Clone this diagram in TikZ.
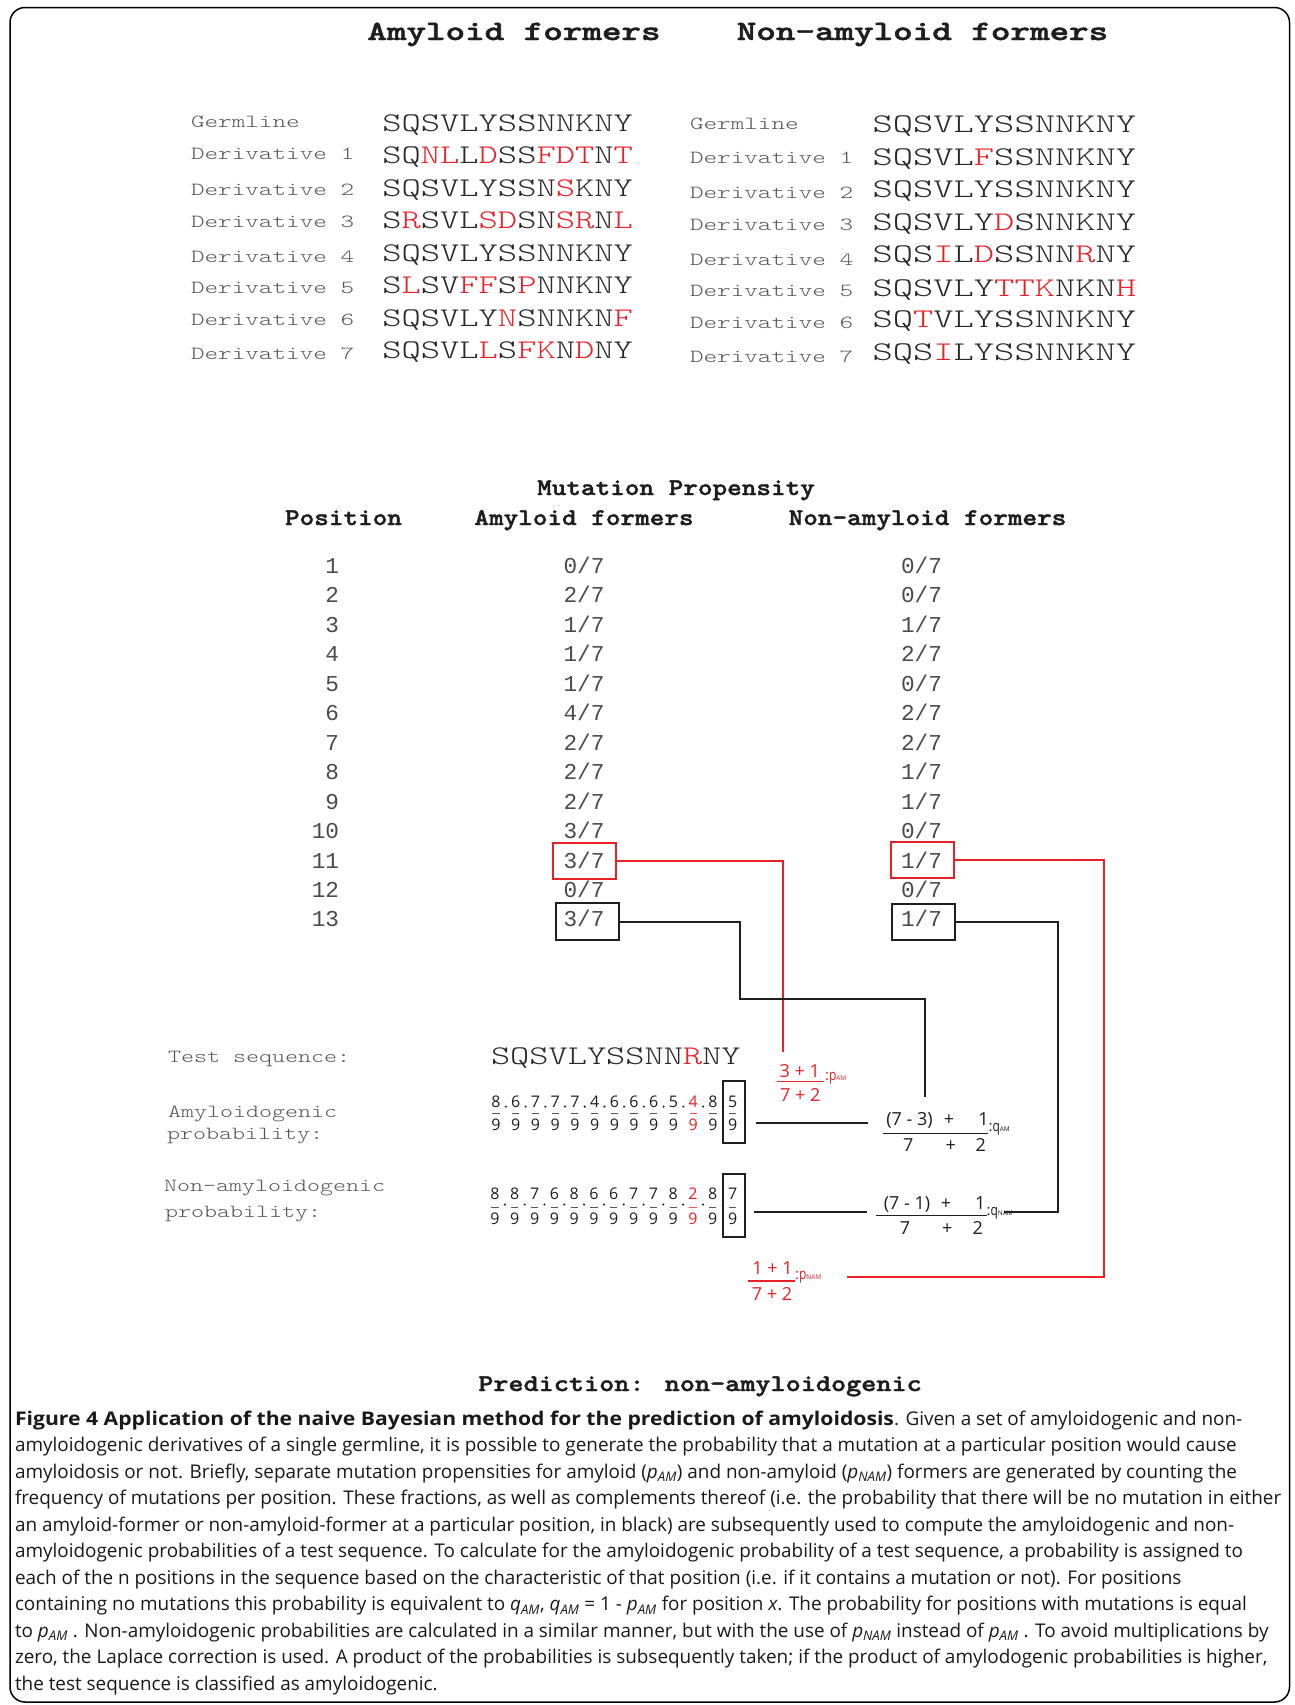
\documentclass[tikz,border=0pt]{standalone}
\usepackage{fontspec}
\usepackage{graphicx}
\newfontfamily\capf{Open Sans}
\newfontfamily\numf{Open Sans}
\newfontfamily\lmono{Liberation Mono}
\newfontfamily\hbold{lmmonolt10-bold}[Extension=.otf,FakeBold=1.6]
\definecolor{myred}{RGB}{232,32,39}
\definecolor{seqgray}{RGB}{40,40,40}
\definecolor{labgray}{RGB}{85,85,85}
\definecolor{tabgray}{RGB}{75,75,75}
\definecolor{fracblack}{RGB}{30,30,30}
\newcommand{\RD}[1]{\textcolor{myred}{#1}}
\newcommand{\tl}{\ttfamily\fontseries{l}\selectfont}
\newcommand{\SL}[1]{\scalebox{1.36}[1]{#1}}
\newcommand{\SR}[1]{\scalebox{1.43}[1]{#1}}
\newcommand{\LB}[1]{\scalebox{1.4}[1]{#1}}
\newcommand{\TS}[1]{\scalebox{1.34}[1]{#1}}
\newcommand{\sub}[1]{{\fontsize{6.5}{6.5}\selectfont #1}}
\newcommand{\ip}[1]{\textit{p}\textsubscript{\textit{#1}}}
\newcommand{\iq}[1]{\textit{q}\textsubscript{\textit{#1}}}
\begin{document}
\begin{tikzpicture}[x=1pt,y=-1pt,
  every node/.style={inner sep=0pt,outer sep=0pt},
  seqL/.style={anchor=base west,text=seqgray,font=\tl\fontsize{27}{27}\selectfont},
  labL/.style={anchor=base west,text=labgray,font=\tl\fontsize{18.5}{18.5}\selectfont},
  headA/.style={anchor=base,text=fracblack,font=\hbold\fontsize{28}{28}\selectfont},
  headB/.style={anchor=base,text=fracblack,font=\hbold\fontsize{24}{24}\selectfont},
  tabnum/.style={anchor=base,text=tabgray,font=\lmono\fontsize{22.7}{22.7}\selectfont},
  fracd/.style={anchor=base,font=\numf\fontsize{16}{16}\selectfont},
  form/.style={anchor=base,text=fracblack,font=\numf\fontsize{18}{18}\selectfont},
  rform/.style={anchor=base,text=myred,font=\numf\fontsize{18}{18}\selectfont},
  redbox/.style={draw=myred,line width=2pt},
  blkbox/.style={draw=fracblack,line width=2pt},
  redline/.style={draw=myred,line width=2pt},
  blkline/.style={draw=fracblack,line width=2.2pt},
  capl/.style={anchor=base west,text=black!90,font=\capf\fontsize{18.9}{18.9}\selectfont}
]
\useasboundingbox (0,0) rectangle (1295,1705);
\fill[white] (0,0) rectangle (1295,1705);
\draw[line width=1.5pt,rounded corners=15pt] (10,7.5) rectangle (1289.5,1702);

% top headings
\node[headA] (hA) at (514,40) {\scalebox{1.33}[1]{Amyloid formers}};
\node[headA] (hN) at (922.5,40) {\scalebox{1.33}[1]{Non-amyloid formers}};

% left block
\node[labL] (lg) at (191,127.3) {\LB{Germline}};
\node[labL] (l1) at (191,159.9) {\LB{Derivative 1}};
\node[labL] (l2) at (191,195.6) {\LB{Derivative 2}};
\node[labL] (l3) at (191,227.3) {\LB{Derivative 3}};
\node[labL] (l4) at (191,262.3) {\LB{Derivative 4}};
\node[labL] (l5) at (191,293.3) {\LB{Derivative 5}};
\node[labL] (l6) at (191,325.6) {\LB{Derivative 6}};
\node[labL] (l7) at (191,359.9) {\LB{Derivative 7}};
\node[seqL] (sg) at (382.3,131.1) {\SL{SQSVLYSSNNKNY}};
\node[seqL] (s1) at (382.3,163.5) {\SL{SQ\RD{NL}L\RD{D}SS\RD{FDT}N\RD{T}}};
\node[seqL] (s2) at (382.3,196.1) {\SL{SQSVLYSSN\RD{S}KNY}};
\node[seqL] (s3) at (382.3,228.8) {\SL{S\RD{R}SVL\RD{SD}SN\RD{SR}N\RD{L}}};
\node[seqL] (s4) at (382.3,261.1) {\SL{SQSVLYSSNNKNY}};
\node[seqL] (s5) at (382.3,293.8) {\SL{S\RD{L}SV\RD{FF}S\RD{P}NNKNY}};
\node[seqL] (s6) at (382.3,326.8) {\SL{SQSVLY\RD{N}SNNKN\RD{F}}};
\node[seqL] (s7) at (382.3,358.5) {\SL{SQSVL\RD{L}S\RD{FK}N\RD{D}NY}};

% right block
\node[labL] (rg) at (690,129.6) {\LB{Germline}};
\node[labL] (r1) at (690,163.3) {\LB{Derivative 1}};
\node[labL] (r2) at (690,198.9) {\LB{Derivative 2}};
\node[labL] (r3) at (690,230.6) {\LB{Derivative 3}};
\node[labL] (r4) at (690,265.6) {\LB{Derivative 4}};
\node[labL] (r5) at (690,296.6) {\LB{Derivative 5}};
\node[labL] (r6) at (690,328.3) {\LB{Derivative 6}};
\node[labL] (r7) at (690,362.3) {\LB{Derivative 7}};
\node[seqL] (tg) at (872.6,132.8) {\SR{SQSVLYSSNNKNY}};
\node[seqL] (t1) at (872.6,165.5) {\SR{SQSVL\RD{F}SSNNKNY}};
\node[seqL] (t2) at (872.6,197.1) {\SR{SQSVLYSSNNKNY}};
\node[seqL] (t3) at (872.6,230.5) {\SR{SQSVLY\RD{D}SNNKNY}};
\node[seqL] (t4) at (872.6,262.8) {\SR{SQS\RD{I}L\RD{D}SSNN\RD{R}NY}};
\node[seqL] (t5) at (872.6,296.1) {\SR{SQSVLY\RD{TTK}NKN\RD{H}}};
\node[seqL] (t6) at (872.6,327.8) {\SR{SQ\RD{T}VLYSSNNKNY}};
\node[seqL] (t7) at (872.6,360.5) {\SR{SQS\RD{I}LYSSNNKNY}};

% propensity table
\node[headB] (mp) at (676,495) {\scalebox{1.16}[1]{Mutation Propensity}};
\node[headB] (hp) at (343.5,525) {\scalebox{1.16}[1]{Position}};
\node[headB] (ha) at (584,525) {\scalebox{1.16}[1]{Amyloid formers}};
\node[headB] (hn) at (927.5,525) {\scalebox{1.16}[1]{Non-amyloid formers}};
\foreach \i/\a/\b in {1/0/0,2/2/0,3/1/1,4/1/2,5/1/0,6/4/2,7/2/2,8/2/1,9/2/1,10/3/0,11/3/1,12/0/0,13/3/1}{
  \pgfmathsetmacro\yy{573.5+29.45*(\i-1)}
  \node[tabnum,anchor=base east] (pos\i) at (339,\yy) {\i};
  \node[tabnum] (am\i) at (584,\yy) {\a/7};
  \node[tabnum] (nm\i) at (921.5,\yy) {\b/7};
}
\node[redbox,minimum width=63,minimum height=36.3] (rA) at (584,861.2) {};
\node[blkbox,minimum width=63,minimum height=36.5] (kA) at (587,921.7) {};
\node[redbox,minimum width=63.5,minimum height=36.8] (rN) at (922.7,860) {};
\node[blkbox,minimum width=63,minimum height=36] (kN) at (923.5,922) {};

% test section labels
\node[labL] (ts) at (168,1062) {\TS{Test sequence:}};
\node[labL] (ap1) at (168,1117) {\TS{Amyloidogenic}};
\node[labL] (ap2) at (167,1139) {\TS{probability:}};
\node[labL] (np1) at (164,1191) {\TS{Non-amyloidogenic}};
\node[labL] (np2) at (165,1217) {\TS{probability:}};
\node[seqL] (tseq) at (491,1064.5) {\scalebox{1.355}[1]{SQSVLYSSNN\RD{R}NY}};

% fraction rows
\foreach \v [count=\i] in {8,6,7,7,7,4,6,6,6,5,4,8,5}{
  \pgfmathsetmacro\xx{496+19.72*(\i-1)}
  \ifnum\i=11 \def\cc{myred}\else\def\cc{fracblack}\fi
  \node[fracd,text=\cc] (an\i) at (\xx,1107.2) {\v};
  \node[fracd,text=\cc] (ad\i) at (\xx,1130.2) {9};
  \draw[\cc!75,line width=1.3pt] (\xx-3.6,1113.5) -- (\xx+3.6,1113.5);
  \ifnum\i<13 \fill[fracblack] (\xx+9.86,1106.6) circle (1.15); \fi
}
\foreach \v [count=\i] in {8,8,7,6,8,6,6,7,7,8,2,8,7}{
  \pgfmathsetmacro\xx{495+19.8*(\i-1)}
  \ifnum\i=11 \def\cc{myred}\else\def\cc{fracblack}\fi
  \node[fracd,text=\cc] (bn\i) at (\xx,1199.7) {\v};
  \node[fracd,text=\cc] (bd\i) at (\xx,1224.7) {9};
  \draw[\cc!75,line width=1.3pt] (\xx-3.6,1207.5) -- (\xx+3.6,1207.5);
  \ifnum\i<13 \fill[fracblack] (\xx+9.9,1204.5) circle (1.15); \fi
}
\node[blkbox,minimum width=21.7,minimum height=62.2] (bA) at (734.2,1111.6) {};
\node[blkbox,minimum width=22,minimum height=62.5] (bN) at (734,1205.3) {};

% q_AM formula
\node[form] (qa1) at (909.5,1125.7) {(7 - 3)};
\node[form] (qa2) at (949,1125.7) {+};
\node[form] (qa3) at (983.5,1125.7) {1};
\node[form] (qa4) at (908.3,1151.4) {7};
\node[form] (qa5) at (950.7,1151.4) {+};
\node[form] (qa6) at (980.7,1151.4) {2};
\draw[fracblack,line width=1.1pt] (882.7,1133.3) -- (988.3,1133.3);
\node[anchor=base west,text=fracblack,font=\numf\fontsize{15}{15}\selectfont] (qa7) at (988.5,1131.5) {:\scalebox{0.8}[1]{q}\sub{AM}};

% q_NAM formula
\node[form] (qn1) at (907,1209.7) {(7 - 1)};
\node[form] (qn2) at (946,1209.7) {+};
\node[form] (qn3) at (980.3,1209.7) {1};
\node[form] (qn4) at (905,1234.7) {7};
\node[form] (qn5) at (947.3,1234.7) {+};
\node[form] (qn6) at (977.7,1234.7) {2};
\draw[fracblack,line width=1.1pt] (876,1215.7) -- (986.7,1215.7);
\node[anchor=base west,text=fracblack,font=\numf\fontsize{15}{15}\selectfont] (qn7) at (986.5,1215.5) {:\scalebox{0.8}[1]{q}\sub{NAM}};

% p_AM (red)
\node[rform] (pa1) at (799.7,1077) {3 + 1};
\node[rform] (pa2) at (800.2,1101.4) {7 + 2};
\draw[myred,line width=1.1pt] (777.3,1081.7) -- (824,1081.7);
\node[anchor=base west,text=myred,font=\numf\fontsize{15}{15}\selectfont] (pa3) at (825,1080) {:\scalebox{0.8}[1]{p}\sub{AM}};

% p_NAM (red)
\node[rform] (pn1) at (772.5,1274.7) {1 + 1};
\node[rform] (pn2) at (772,1300.4) {7 + 2};
\draw[myred,line width=1.1pt] (748.3,1281) -- (795,1281);
\node[anchor=base west,text=myred,font=\numf\fontsize{15}{15}\selectfont] (pn3) at (795,1279) {:\scalebox{0.8}[1]{p}\sub{NAM}};

% connectors
\coordinate (cRA) at (782.5,1051.5);
\coordinate (cKA) at (924.7,1097);
\coordinate (cRN) at (847,1276.5);
\coordinate (cKN) at (1004,1211.7);
\draw[redline] (rA.east) -| (cRA);
\draw[blkline] (kA.east) -| (740,999) -| (cKA);
\draw[redline] (rN.east) -| (1104,1276.5) -- (cRN);
\draw[blkline] (kN.east) -| (1058,1211.7) -- (cKN);
\coordinate (la1) at (756,1122.7);
\coordinate (la2) at (868.3,1122.7);
\coordinate (lb1) at (754,1212);
\coordinate (lb2) at (867.3,1212);
\draw[blkline,line width=2pt] (la1) -- (la2);
\draw[blkline,line width=2pt] (lb1) -- (lb2);

% prediction
\node[headB] (pred) at (700,1391) {\scalebox{1.2}[1]{Prediction: non-amyloidogenic}};

% caption
\node[capl] (c1) at (15,1425) {\scalebox{1.12}[1]{\textbf{Figure 4 Application of the naive Bayesian method for the prediction of amyloidosis}}. Given a set of amyloidogenic and non-};
\node[capl] (c2) at (15,1451.5) {amyloidogenic derivatives of a single germline, it is possible to generate the probability that a mutation at a particular position would cause};
\node[capl] (c3) at (15,1478) {amyloidosis or not. Briefly, separate mutation propensities for amyloid (\ip{AM}) and non-amyloid (\ip{NAM}) formers are generated by counting the};
\node[capl] (c4) at (15,1504.5) {frequency of mutations per position. These fractions, as well as complements thereof (i.e. the probability that there will be no mutation in either};
\node[capl] (c5) at (15,1531) {an amyloid-former or non-amyloid-former at a particular position, in black) are subsequently used to compute the amyloidogenic and non-};
\node[capl] (c6) at (15,1557.5) {amyloidogenic probabilities of a test sequence. To calculate for the amyloidogenic probability of a test sequence, a probability is assigned to};
\node[capl] (c7) at (15,1584) {each of the n positions in the sequence based on the characteristic of that position (i.e. if it contains a mutation or not). For positions};
\node[capl] (c8) at (15,1610.5) {containing no mutations this probability is equivalent to \iq{AM}, \iq{AM} = 1 - \ip{AM} for position \textit{x}. The probability for positions with mutations is equal};
\node[capl] (c9) at (15,1637) {to \ip{AM} . Non-amyloidogenic probabilities are calculated in a similar manner, but with the use of \ip{NAM} instead of \ip{AM} . To avoid multiplications by};
\node[capl] (c10) at (15,1663.5) {zero, the Laplace correction is used. A product of the probabilities is subsequently taken; if the product of amylodogenic probabilities is higher,};
\node[capl] (c11) at (15,1690) {the test sequence is classified as amyloidogenic.};
\end{tikzpicture}
\end{document}
